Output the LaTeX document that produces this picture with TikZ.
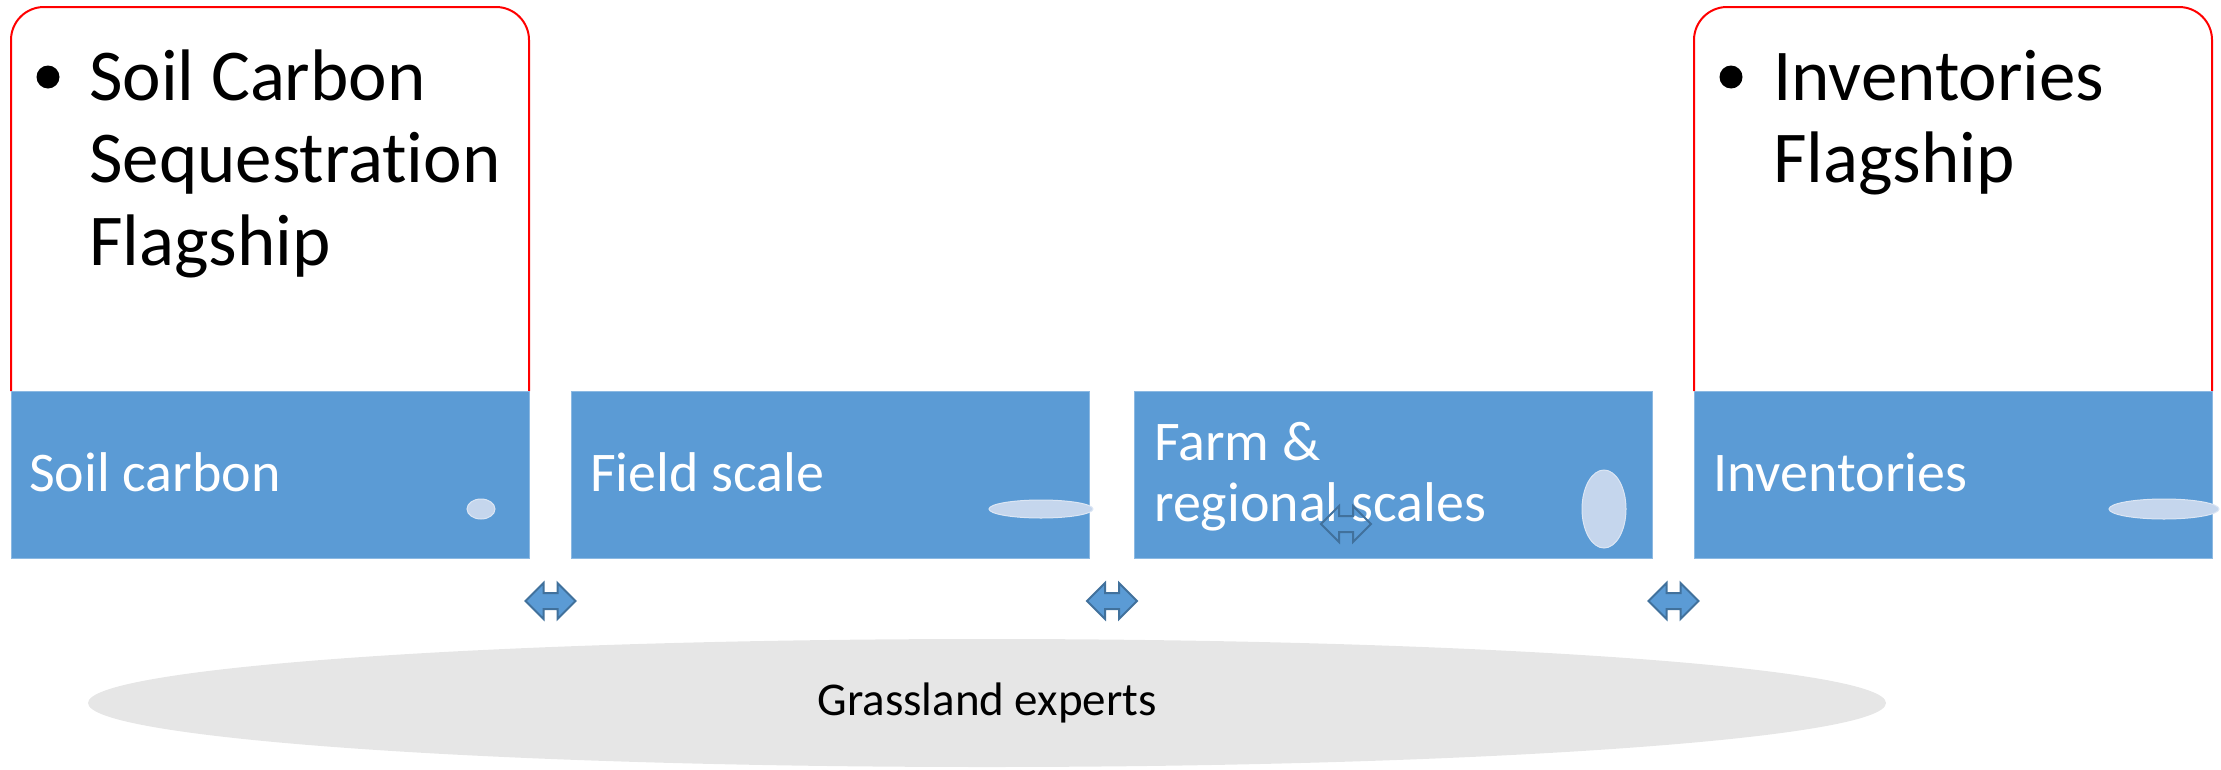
\documentclass[tikz,border=0pt]{standalone}
\usepackage{fontspec}
\setmainfont{Carlito}[Ligatures={NoCommon}]
\usetikzlibrary{calc,shapes.geometric}
\definecolor{flagred}{RGB}{255,0,0}
\definecolor{scaleblue}{RGB}{91,155,213}
\definecolor{arrowedge}{RGB}{65,113,156}
\definecolor{glintblue}{RGB}{197,214,237}
\definecolor{expertgrey}{RGB}{230,230,230}
\tikzset{flag/.style={draw=flagred, line width=2pt, fill=white, rounded corners=33pt},
  scalebox/.style={fill=scaleblue, draw=scaleblue!70!white, line width=1pt, inner sep=0,
    minimum width=518pt, minimum height=167pt, anchor=north west},
  scaletxt/.style={text=white, font=\fontsize{56}{61}\selectfont, align=left, anchor=base west, inner sep=0},
  flagtxt/.style={font=\fontsize{73}{82.5}\selectfont, align=left, anchor=base west, inner sep=0},
  bul/.style={circle, fill=black, inner sep=0, minimum size=23pt},
  glint/.style={fill=glintblue, draw=glintblue!60!white, line width=1pt},
  swap/.style={fill=scaleblue, draw=arrowedge, line width=2pt, line join=miter},
  swapline/.style={draw=arrowedge, line width=2pt},
  dblarr/.pic={\path[pic actions] (-25,0) -- (-7,-18) -- (-7,-8) -- (7,-8) -- (7,-18)
    -- (25,0) -- (7,18) -- (7,8) -- (-7,8) -- (-7,18) -- cycle;}}

\begin{document}
\begin{tikzpicture}[x=1pt, y=-1pt]
  \useasboundingbox (0,0) rectangle (2221,769);
  % flagship frames over the outer scales (text anchored on its last line)
  \draw[flag] (11,391) -- (11,7) -- (529,7) -- (529,391);
  \draw[flag] (1694,391) -- (1694,7) -- (2212,7) -- (2212,391);
  \node[bul] (soilbul) at (48,77) {};
  \node[flagtxt] (soilflag) at (89,265) {Soil Carbon\\Sequestration\\Flagship};
  \node[bul] (invbul) at (1731,77) {};
  \node[flagtxt] (invflag) at (1773,182.5) {Inventories\\Flagship};
  % the four scales
  \foreach \n/\x in {soil/11, field/571, farm/1134, inv/1694}
    \node[scalebox] (\n) at (\x,391) {};
  \node[scaletxt] (soiltxt) at ($(soil.north west)+(18,100)$) {Soil carbon};
  \node[scaletxt] (fieldtxt) at ($(field.north west)+(19,100)$) {Field scale};
  \node[scaletxt] (farmtxt) at ($(farm.north west)+(20,130)$) {Farm \&\\regional scales};
  \node[scaletxt] (invtxt) at ($(inv.north west)+(19,100)$) {Inventories};
  \foreach \n/\rx/\ry in {soil/14/10, field/52/9, farm/22/39, inv/55/10}
    \path[glint] ($(\n.south east)+(-49,-50)$) ellipse [x radius=\rx, y radius=\ry];
  % links between neighbouring scales
  \foreach \a/\b in {soil/field, field/farm, farm/inv}
    \pic[swap] at ($(\a.south east)!0.5!(\b.south west)+(0,42)$) {dblarr};
  \pic[swapline] at ($(farm.south west)+(212,-35)$) {dblarr};
  % experts underneath
  \node[ellipse, fill=expertgrey, inner sep=0, minimum width=1798pt, minimum height=128pt,
    font=\fontsize{47}{56}\selectfont] (experts) at (987,703) {Grassland experts};
\end{tikzpicture}
\end{document}
